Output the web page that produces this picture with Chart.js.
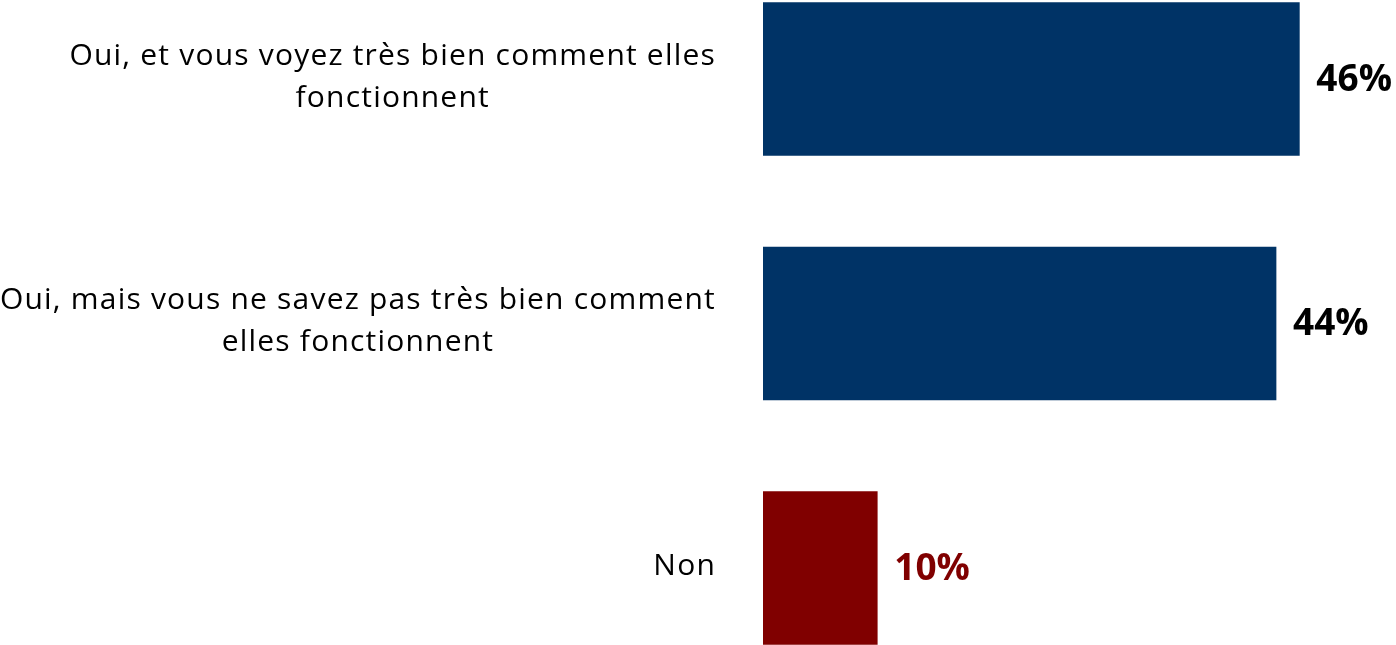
<!DOCTYPE html>
<html>
<head>
<meta charset="utf-8">
<script src="https://cdn.jsdelivr.net/npm/chart.js@4"></script>
<style>
html,body{margin:0;padding:0;background:#fff;}
#wrap{width:1396px;height:645px;position:relative;}
</style>
</head>
<body>
<div id="wrap"><canvas id="c"></canvas></div>
<script>
const categories = [
  ["Oui, et vous voyez très bien comment elles", "fonctionnent"],
  ["Oui, mais vous ne savez pas très bien comment", "elles fonctionnent"],
  ["Non"]
];
const values = [46, 44, 9.8];
const barColors = ["#003366", "#003366", "#800000"];
const valueLabelColors = ["#000000", "#000000", "#800000"];

const labelFont = '30px "Open Sans", sans-serif';
const valueFont = 'bold 37px "Open Sans", sans-serif';

const points = values.map((v, i) => ({ x: v, y: i }));

const sideLabels = {
  id: 'sideLabels',
  afterDatasetsDraw(chart) {
    const ctx = chart.ctx;
    const yScale = chart.scales.y;
    const xScale = chart.scales.x;
    const area = chart.chartArea;
    ctx.save();
    ctx.font = labelFont;
    ctx.letterSpacing = '1.2px';
    ctx.fillStyle = '#000';
    ctx.textAlign = 'center';
    ctx.textBaseline = 'middle';
    const lh = 42;
    categories.forEach((lines, i) => {
      const y = yScale.getPixelForValue(i);
      const widest = Math.max(...lines.map(l => ctx.measureText(l).width));
      const cx = area.left - 47 - widest / 2;
      const y0 = y - (lines.length - 1) * lh / 2 - 2;
      lines.forEach((l, k) => ctx.fillText(l, cx, y0 + k * lh));
    });
    ctx.letterSpacing = '0px';
    ctx.font = valueFont;
    ctx.textAlign = 'left';
    values.forEach((v, i) => {
      ctx.fillStyle = valueLabelColors[i];
      ctx.fillText(Math.round(v) + '%', xScale.getPixelForValue(v) + 17, yScale.getPixelForValue(i) + 1);
    });
    ctx.restore();
  }
};

new Chart(document.getElementById('c'), {
  type: 'bar',
  data: {
    datasets: [{
      data: points,
      backgroundColor: barColors,
      borderWidth: 0,
      barThickness: 153
    }]
  },
  options: {
    indexAxis: 'y',
    responsive: true,
    maintainAspectRatio: false,
    animation: false,
    layout: { padding: { left: 763, right: 50, top: 0, bottom: 0 } },
    plugins: { legend: { display: false }, tooltip: { enabled: false } },
    scales: {
      x: { type: 'linear', min: 0, max: 50, display: false },
      y: { type: 'linear', reverse: true, offset: false, min: -0.323, max: 2.315, display: false }
    }
  },
  plugins: [sideLabels]
});
</script>
</body>
</html>
